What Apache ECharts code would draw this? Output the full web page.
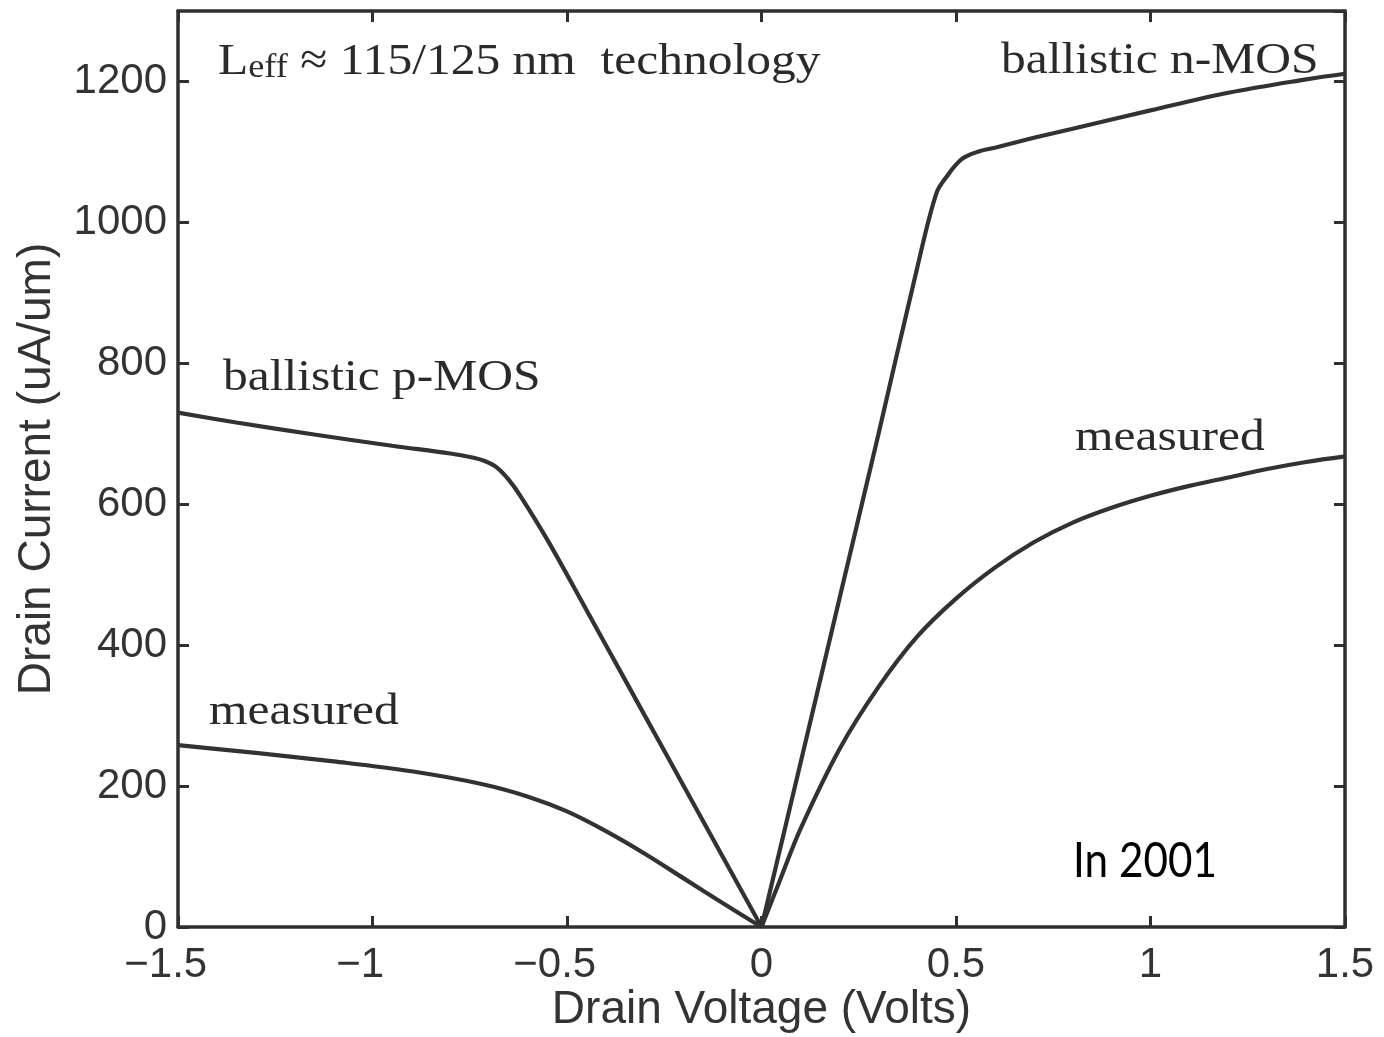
<!DOCTYPE html>
<html>
<head>
<meta charset="utf-8">
<title>Drain current vs drain voltage</title>
<script src="https://cdn.jsdelivr.net/npm/echarts@6/dist/echarts.min.js"></script>
<style>
  html, body { margin: 0; padding: 0; background: #ffffff; }
  #chart { width: 1384px; height: 1037px; }
</style>
</head>
<body>
<div id="chart"></div>
<script>
// Axis ranges and ticks
const voltageTicks = [-1.5, -1, -0.5, 0, 0.5, 1, 1.5];
const currentTicks = [0, 200, 400, 600, 800, 1000, 1200];
const currentMax = 1300;

// Ballistic p-MOS (negative drain voltage)
const pBallisticV = [-1.5, -1.35, -1.15, -0.95, -0.8, -0.74, -0.71, -0.68, -0.65, -0.62, -0.55, -0.45, -0.35, -0.25, -0.15, -0.05, 0];
const pBallisticI = [730, 716, 699, 683, 672, 666, 661, 652, 635, 612, 549, 450, 350, 250, 150, 50, 0];

// Measured p-MOS
const pMeasuredV = [-1.5, -1.3, -1.1, -0.9, -0.72, -0.6, -0.5, -0.4, -0.3, -0.2, -0.1, 0];
const pMeasuredI = [258, 247, 235, 221, 203, 185, 164, 136, 104, 69, 34, 0];

// Ballistic n-MOS (positive drain voltage)
const nBallisticV = [0, 0.1, 0.2, 0.3, 0.4, 0.45, 0.48, 0.5, 0.52, 0.56, 0.6, 0.7, 0.8, 1.0, 1.2, 1.4, 1.5];
const nBallisticI = [0, 232, 465, 698, 935, 1042, 1068, 1082, 1092, 1101, 1106, 1120, 1133, 1159, 1184, 1203, 1211];

// Measured n-MOS
const nMeasuredV = [0, 0.05, 0.1, 0.2, 0.3, 0.4, 0.5, 0.6, 0.7, 0.8, 0.9, 1.0, 1.1, 1.2, 1.3, 1.4, 1.5];
const nMeasuredI = [0, 70, 139, 252, 340, 412, 466, 510, 546, 574, 595, 612, 626, 638, 650, 660, 668];

const pairs = (xs, ys) => xs.map((x, i) => [x, ys[i]]);

const ink = '#2f2f2f';
const tickFont = 'Liberation Sans';
const serif = '"Liberation Serif", "Times New Roman", serif';

const frameLine = { show: true, onZero: false, lineStyle: { color: ink, width: 3.5 } };
const frameTick = { show: true, inside: true, length: 11, lineStyle: { color: ink, width: 3 } };

function fmtVoltage(v) {
  if (voltageTicks.indexOf(v) < 0) return '';
  if (v < 0) return '\u2212' + String(-v) + '{pad|\u2212}';
  return String(v);
}

const curveStyle = { color: '#323232', width: 4.2 };
function curve(name, xs, ys) {
  return {
    name: name,
    type: 'line',
    xAxisIndex: 0,
    yAxisIndex: 0,
    data: pairs(xs, ys),
    showSymbol: false,
    symbol: 'none',
    smooth: 0.35,
    lineStyle: curveStyle,
    silent: true
  };
}

function serifLabel(text, x, y) {
  return {
    type: 'text',
    x: x,
    y: y,
    scaleX: 1.1,
    silent: true,
    style: {
      text: text,
      fill: '#2a2a2a',
      font: '45px ' + serif,
      align: 'left',
      verticalAlign: 'middle'
    }
  };
}

const chart = echarts.init(document.getElementById('chart'), null, { renderer: 'canvas' });

chart.setOption({
  animation: false,
  backgroundColor: '#ffffff',
  grid: {
    left: 178, right: 39, top: 11, bottom: 110,
    containLabel: false,
    outerBoundsMode: 'none'
  },
  xAxis: [
    {
      type: 'value', position: 'bottom',
      min: -1.5, max: 1.5, interval: 0.5,
      axisLine: frameLine, axisTick: frameTick,
      splitLine: { show: false },
      axisLabel: {
        margin: 17, color: '#333', fontFamily: tickFont, fontSize: 42,
        formatter: fmtVoltage,
        rich: { pad: { color: 'rgba(0,0,0,0)', fontFamily: tickFont, fontSize: 42 } }
      },
      name: 'Drain Voltage (Volts)',
      nameLocation: 'middle', nameGap: 60, nameMoveOverlap: false,
      nameTextStyle: { color: '#333', fontFamily: tickFont, fontSize: 46 }
    },
    {
      type: 'value', position: 'top',
      min: -1.5, max: 1.5, interval: 0.5,
      axisLine: frameLine, axisTick: frameTick,
      splitLine: { show: false }, axisLabel: { show: false }
    }
  ],
  yAxis: [
    {
      type: 'value', position: 'left',
      min: 0, max: currentMax, interval: 200,
      axisLine: frameLine, axisTick: frameTick,
      splitLine: { show: false },
      axisLabel: {
        margin: 11, color: '#333', fontFamily: tickFont, fontSize: 42,
        showMaxLabel: false,
        formatter: v => (currentTicks.indexOf(v) >= 0 ? String(v) : '')
      },
      name: 'Drain Current (uA/um)',
      nameLocation: 'middle', nameGap: 118, nameMoveOverlap: false,
      nameTextStyle: { color: '#333', fontFamily: tickFont, fontSize: 46 }
    },
    {
      type: 'value', position: 'right',
      min: 0, max: currentMax, interval: 200,
      axisLine: frameLine, axisTick: frameTick,
      splitLine: { show: false }, axisLabel: { show: false }
    }
  ],
  series: [
    curve('ballistic p-MOS', pBallisticV, pBallisticI),
    curve('measured p-MOS', pMeasuredV, pMeasuredI),
    curve('ballistic n-MOS', nBallisticV, nBallisticI),
    curve('measured n-MOS', nMeasuredV, nMeasuredI)
  ],
  graphic: [
    {
      type: 'text', x: 218, y: 62, scaleX: 1.1, silent: true,
      style: {
        text: 'L{s|eff} \u2248 115/125 nm  technology',
        fill: '#2a2a2a',
        font: '45px ' + serif,
        align: 'left',
        verticalAlign: 'middle',
        rich: {
          s: { fontSize: 33, fontFamily: 'Liberation Serif', fill: '#2a2a2a', verticalAlign: 'bottom' }
        }
      }
    },
    serifLabel('ballistic n-MOS', 1001, 61),
    serifLabel('ballistic p-MOS', 223, 378),
    serifLabel('measured', 1075, 438),
    serifLabel('measured', 209, 712),
    {
      type: 'text', x: 1073, y: 862, scaleX: 0.88, silent: true,
      style: {
        text: 'In 2001',
        fill: '#000000',
        font: '48px Lato, "Open Sans", sans-serif',
        align: 'left',
        verticalAlign: 'middle'
      }
    }
  ]
});
</script>
</body>
</html>
